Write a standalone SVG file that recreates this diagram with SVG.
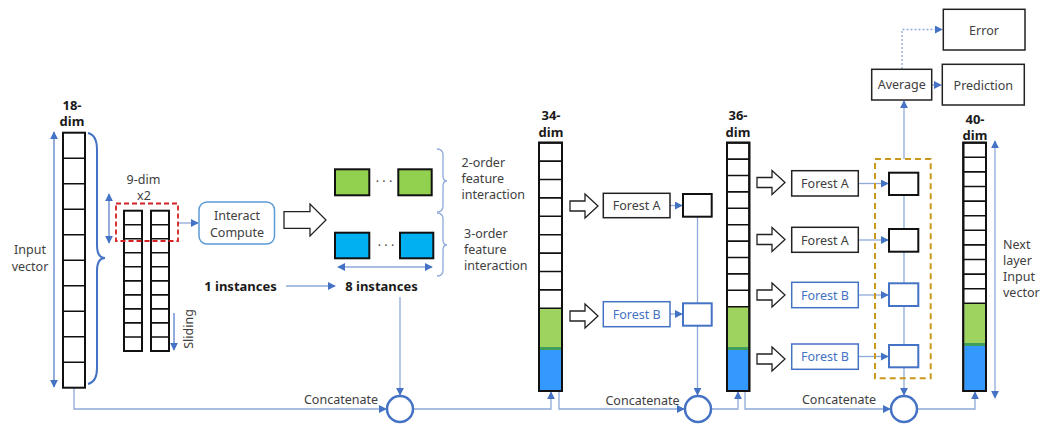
<svg xmlns="http://www.w3.org/2000/svg" width="1050" height="424" viewBox="0 0 1050 424">
<defs>
<style>
text{font-family:"Noto Sans","Open Sans","Liberation Sans",sans-serif;fill:#404040;font-size:12.5px}
.b{font-weight:bold;fill:#1a1a1a;font-size:13px}
.c{text-anchor:middle}
.cell{fill:#fff;stroke:#111;stroke-width:2}
.sep{stroke:#111;stroke-width:1.6}
.out{fill:none;stroke:#111;stroke-width:2}
.conn{fill:none;stroke:#8EA9DB;stroke-width:1.3}
.dark{stroke:#5B7FCC}
.box{fill:#fff;stroke:#222;stroke-width:1.5}
.bbox{fill:#fff;stroke:#4472C4;stroke-width:1.5}
.ha{fill:#fff;stroke:#222;stroke-width:1.3}
.circ{fill:#fff;stroke:#4472C4;stroke-width:2.5}
.green{fill:#9FD35F}
.band{fill:#3E9F5A}
.blue{fill:#3399FF}
.blueText{fill:#4472C4}
</style>
<marker id="ah" viewBox="0 0 10 10" refX="9" refY="5" markerWidth="8" markerHeight="8" markerUnits="userSpaceOnUse" orient="auto-start-reverse">
<path d="M0,0 L10,5 L0,10 Z" fill="#4472C4"/>
</marker>
<path id="harrow" d="M0,-5 H15 V-12 L28,0 L15,12 V5 H0 Z"/>
</defs>

<g id="connectors">
<line class="conn dark" x1="54" y1="132" x2="54" y2="387" marker-start="url(#ah)" marker-end="url(#ah)"/>
<line class="conn dark" x1="109" y1="194" x2="109" y2="243" marker-start="url(#ah)" marker-end="url(#ah)"/>
<line class="conn dark" x1="174" y1="313" x2="174" y2="350" marker-end="url(#ah)"/>
<line class="conn" x1="178" y1="223" x2="198" y2="223" marker-end="url(#ah)"/>
<line class="conn" x1="286" y1="286" x2="335" y2="286" marker-end="url(#ah)"/>
<line class="conn" x1="338" y1="267" x2="432" y2="267" marker-start="url(#ah)" marker-end="url(#ah)"/>
<line class="conn" x1="400" y1="297" x2="400" y2="395" marker-end="url(#ah)"/>
<polyline class="conn" points="74,388 74,409 386,409" marker-end="url(#ah)"/>
<polyline class="conn" points="413,409 551,409 551,392" marker-end="url(#ah)"/>
<polyline class="conn" points="559,391 559,409 684,409" marker-end="url(#ah)"/>
<line class="conn" x1="670" y1="205.5" x2="682" y2="205.5" marker-end="url(#ah)"/>
<line class="conn" x1="670" y1="314" x2="682" y2="314" marker-end="url(#ah)"/>
<line class="conn" x1="697.5" y1="216" x2="697.5" y2="395" marker-end="url(#ah)"/>
<polyline class="conn" points="711,409 738,409 738,392" marker-end="url(#ah)"/>
<polyline class="conn" points="745,391 745,409 890,409" marker-end="url(#ah)"/>
<line class="conn" x1="858" y1="183.5" x2="888" y2="183.5" marker-end="url(#ah)"/>
<line class="conn" x1="858" y1="240" x2="888" y2="240" marker-end="url(#ah)"/>
<line class="conn" x1="858" y1="295" x2="888" y2="295" marker-end="url(#ah)"/>
<line class="conn" x1="858" y1="356.5" x2="888" y2="356.5" marker-end="url(#ah)"/>
<line class="conn" x1="904" y1="195" x2="904" y2="395" marker-end="url(#ah)"/>
<polyline class="conn" points="917,409 975,409 975,392" marker-end="url(#ah)"/>
<line class="conn" x1="904" y1="159" x2="904" y2="101" marker-end="url(#ah)"/>
<line class="conn" x1="932" y1="85" x2="941" y2="85" marker-end="url(#ah)"/>
<polyline class="conn" points="902,69 902,29.5 942,29.5" stroke-dasharray="2,2" marker-end="url(#ah)"/>
<line class="conn" x1="995" y1="141" x2="995" y2="398" marker-start="url(#ah)" marker-end="url(#ah)"/>
</g>

<g id="input-vector">
<rect class="cell" x="63" y="132.7" width="22" height="255"/>
<path class="sep" d="M63 158.2H85M63 183.7H85M63 209.2H85M63 234.7H85M63 260.2H85M63 285.7H85M63 311.2H85M63 336.7H85M63 362.2H85"/>
<text class="b c" x="72" y="110">18-</text>
<text class="b c" x="72" y="126">dim</text>
<text class="c" x="30" y="254" font-size="13">Input</text>
<text class="c" x="30" y="271" font-size="13">vector</text>
<path d="M88 133 Q97 135 97 150 L97 245 Q97 258 105 258 Q97 258 97 271 L97 368 Q97 382 88 384" fill="none" stroke="#4472C4" stroke-width="2"/>
</g>

<g id="window">
<rect class="cell" x="124" y="210.7" width="18" height="140.3"/>
<rect class="cell" x="151" y="210.7" width="18" height="140.3"/>
<path class="sep" d="M124 224.7H142M124 238.8H142M124 252.8H142M124 266.8H142M124 280.9H142M124 294.9H142M124 308.9H142M124 322.9H142M124 337H142M151 224.7H169M151 238.8H169M151 252.8H169M151 266.8H169M151 280.9H169M151 294.9H169M151 308.9H169M151 322.9H169M151 337H169"/>
<rect x="116" y="203.5" width="62" height="37.5" fill="none" stroke="#D42020" stroke-width="1.8" stroke-dasharray="5,3"/>
<text class="c" x="143.5" y="184">9-dim</text>
<text class="c" x="144" y="200">x2</text>
<text class="c" transform="translate(192.5,329) rotate(-90)">Sliding</text>
</g>

<g id="interact-compute">
<rect x="199" y="202" width="75.5" height="42" rx="8" fill="#fff" stroke="#5B9BD5" stroke-width="1.5"/>
<text class="c" x="237" y="219.5">Interact</text>
<text class="c" x="237" y="236.5">Compute</text>
</g>

<g id="big-arrow">
<path class="ha" d="M284 211.7 H310 V204 L326 220 L310 236 V228.3 H284 Z"/>
</g>

<g id="instances">
<rect x="335" y="169.3" width="34.3" height="26" fill="#92D050" stroke="#111" stroke-width="2"/>
<rect x="398.3" y="169.3" width="33.4" height="26" fill="#92D050" stroke="#111" stroke-width="2"/>
<rect x="335" y="232.7" width="34.3" height="25.6" fill="#00B0F0" stroke="#111" stroke-width="2"/>
<rect x="400" y="232.7" width="33.3" height="25.6" fill="#00B0F0" stroke="#111" stroke-width="2"/>
<text class="c" x="384" y="186" fill="#222">· · ·</text>
<text class="c" x="386" y="250" fill="#222">· · ·</text>
<path d="M437 149 Q443 149 443 155 L443 176 Q443 181 447 181 Q443 181 443 186 L443 206 Q443 212 437 212" fill="none" stroke="#8EA9DB" stroke-width="1.3"/>
<path d="M437 213 Q443 213 443 219 L443 240 Q443 245 447 245 Q443 245 443 250 L443 270 Q443 276 437 276" fill="none" stroke="#8EA9DB" stroke-width="1.3"/>
<text x="461.5" y="167">2-order</text>
<text x="461.5" y="183">feature</text>
<text x="461.5" y="198.5">interaction</text>
<text x="464" y="238">3-order</text>
<text x="464" y="254">feature</text>
<text x="464" y="270">interaction</text>
<text class="b c" x="240.5" y="290.5">1 instances</text>
<text class="b c" x="381.5" y="290.5">8 instances</text>
</g>

<g id="vector-34">
<rect class="cell" x="539" y="142.7" width="23" height="248.3"/>
<rect class="green" x="540" y="308.3" width="21" height="39"/>
<rect class="band" x="540" y="347" width="21" height="3"/>
<rect class="blue" x="540" y="350" width="21" height="40"/>
<path class="sep" d="M539 161.1H562M539 179.5H562M539 197.9H562M539 216.3H562M539 234.7H562M539 253.1H562M539 271.5H562M539 289.9H562M539 308.3H562"/>
<rect class="out" x="539" y="142.7" width="23" height="248.3"/>
<text class="b c" x="551" y="120">34-</text>
<text class="b c" x="551" y="136.5">dim</text>
</g>

<g id="layer1-forests">
<use href="#harrow" class="ha" x="570" y="206"/>
<use href="#harrow" class="ha" x="570" y="316"/>
<rect class="box" x="603.3" y="193.3" width="66.7" height="24.4"/>
<text class="c" x="636.7" y="210">Forest A</text>
<rect class="bbox" x="603.3" y="301.7" width="66.7" height="25"/>
<text class="c blueText" x="636.7" y="318.5">Forest B</text>
<rect x="683" y="194" width="28.7" height="22.7" fill="#fff" stroke="#111" stroke-width="2"/>
<rect x="683" y="303.3" width="28.7" height="22.4" fill="#fff" stroke="#4472C4" stroke-width="2"/>
</g>

<g id="vector-36">
<rect class="cell" x="727" y="142.7" width="22.3" height="248.3"/>
<rect class="green" x="728" y="306.7" width="20.3" height="40.3"/>
<rect class="band" x="728" y="347" width="20.3" height="3"/>
<rect class="blue" x="728" y="350" width="20.3" height="40"/>
<path class="sep" d="M727 159.1H749.3M727 175.5H749.3M727 191.9H749.3M727 208.3H749.3M727 224.7H749.3M727 241.1H749.3M727 257.5H749.3M727 273.9H749.3M727 290.3H749.3M727 306.7H749.3"/>
<rect class="out" x="727" y="142.7" width="22.3" height="248.3"/>
<text class="b c" x="738" y="120">36-</text>
<text class="b c" x="738" y="136.5">dim</text>
</g>

<g id="layer2-forests">
<use href="#harrow" class="ha" x="757" y="182.5"/>
<use href="#harrow" class="ha" x="757" y="239.5"/>
<use href="#harrow" class="ha" x="757" y="295"/>
<use href="#harrow" class="ha" x="757" y="359"/>
<rect class="box" x="791.7" y="170.7" width="66.6" height="25.3"/>
<text class="c" x="825" y="188">Forest A</text>
<rect class="box" x="791.7" y="227.3" width="66.6" height="25"/>
<text class="c" x="825" y="244.5">Forest A</text>
<rect class="bbox" x="791.7" y="282.3" width="66.6" height="25.4"/>
<text class="c blueText" x="825" y="299.5">Forest B</text>
<rect class="bbox" x="791.7" y="344" width="66.6" height="25.3"/>
<text class="c blueText" x="825" y="361">Forest B</text>
</g>

<g id="layer2-outputs">
<rect x="875" y="159" width="55.7" height="219.3" fill="none" stroke="#C9971C" stroke-width="2" stroke-dasharray="6,4"/>
<rect x="889" y="172.7" width="29.3" height="22.3" fill="#fff" stroke="#111" stroke-width="2"/>
<rect x="889" y="229" width="29.3" height="22.7" fill="#fff" stroke="#111" stroke-width="2"/>
<rect x="889" y="283.3" width="29.3" height="22.7" fill="#fff" stroke="#4472C4" stroke-width="2"/>
<rect x="889" y="345" width="29.3" height="22.3" fill="#fff" stroke="#4472C4" stroke-width="2"/>
</g>

<g id="vector-40">
<rect class="cell" x="963.3" y="142.7" width="22.7" height="248.3"/>
<rect class="green" x="964.3" y="303.3" width="20.7" height="40.7"/>
<rect class="band" x="964.3" y="343" width="20.7" height="3"/>
<rect class="blue" x="964.3" y="346" width="20.7" height="44"/>
<path class="sep" d="M963.3 157.3H986M963.3 171.9H986M963.3 186.5H986M963.3 201.1H986M963.3 215.7H986M963.3 230.3H986M963.3 244.9H986M963.3 259.5H986M963.3 274.1H986M963.3 288.7H986M963.3 303.3H986"/>
<rect class="out" x="963.3" y="142.7" width="22.7" height="248.3"/>
<text class="b c" x="975" y="124">40-</text>
<text class="b c" x="975" y="140">dim</text>
<text x="1003" y="248.5">Next</text>
<text x="1003" y="264.5">layer</text>
<text x="1003" y="280.5">Input</text>
<text x="1003" y="297">vector</text>
</g>

<g id="average">
<rect class="box" x="871.7" y="69.3" width="60" height="30.7"/>
<text class="c" x="901.7" y="89" font-size="11.5">Average</text>
</g>
<g id="prediction">
<rect class="box" x="942.3" y="64.3" width="82" height="40.7"/>
<text class="c" x="983.3" y="89.5" font-size="13">Prediction</text>
</g>
<g id="error">
<rect class="box" x="943.3" y="9.3" width="81.7" height="40.7"/>
<text class="c" x="984" y="34.5" font-size="13">Error</text>
</g>

<g id="concat-1">
<circle class="circ" cx="400" cy="409" r="13"/>
<text class="c" x="341" y="404">Concatenate</text>
</g>
<g id="concat-2">
<circle class="circ" cx="698" cy="409" r="13"/>
<text class="c" x="642.5" y="404.5">Concatenate</text>
</g>
<g id="concat-3">
<circle class="circ" cx="904" cy="409" r="13"/>
<text class="c" x="839" y="404">Concatenate</text>
</g>
</svg>
